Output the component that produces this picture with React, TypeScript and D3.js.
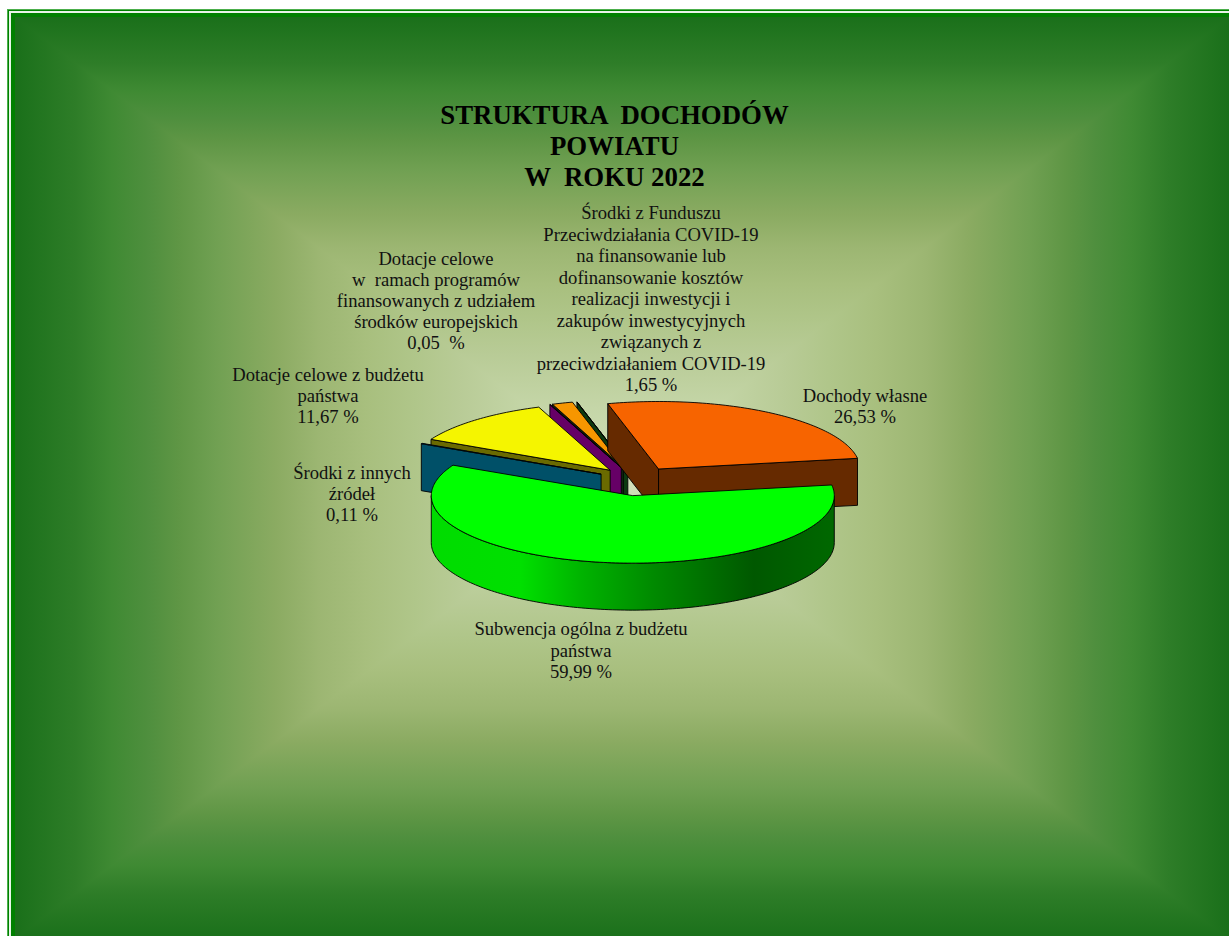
import React from "react";
import * as d3 from "d3";

const W = 1229, H = 936;
const titleLines = ["STRUKTURA  DOCHODÓW", "POWIATU", "W  ROKU 2022"];
const sliceNames = ["Dochody własne", "Subwencja ogólna", "Środki z innych źródeł", "Dotacje celowe z budżetu państwa", "Dotacje celowe UE", "Środki z Funduszu COVID-19", "(bez etykiety)"];
const sliceValues = [26.53, 59.99, 0.11, 11.67, 0.05, 1.65, 0.01];
const topColors = ["#f76400", "#00ff00", "#00b4ff", "#f5f500", "#a000a0", "#f79600", "#0c3a10"];
const wallColors = ["#662a00", "url(#wall)", "#005068", "#6a6a00", "#660066", "#0f2a10", "#0c3a10"];
const paintOrder = [6, 5, 4, 3, 2, 0, 1];
const nudgeX = [-0.5, 2, 0, 0, -1.5, -1.5, 1];
const nudgeY = [0, 2, 0, 0, 0, 0, 0];

const labels = [
  { x: 865, y: 402, pitch: 21, lines: ["Dochody własne", "26,53 %"] },
  { x: 581, y: 635, pitch: 21.5, lines: ["Subwencja ogólna z budżetu", "państwa", "59,99 %"] },
  { x: 352, y: 479, pitch: 21, lines: ["Środki z innych", "źródeł", "0,11 %"] },
  { x: 328, y: 381, pitch: 21, lines: ["Dotacje celowe z budżetu", "państwa", "11,67 %"] },
  { x: 436, y: 265, pitch: 21, lines: ["Dotacje celowe", "w  ramach programów", "finansowanych z udziałem", "środków europejskich", "0,05  %"] },
  { x: 651, y: 219, pitch: 21.5, lines: ["Środki z Funduszu", "Przeciwdziałania COVID-19", "na finansowanie lub", "dofinansowanie kosztów", "realizacji inwestycji i", "zakupów inwestycyjnych", "związanych z", "przeciwdziałaniem COVID-19", "1,65 %"] },
];

const CX = 637, CY = 480.3, RX = 201.5, RY = 67.5, DEPTH = 47, EXPLODE = 0.2;
const BG = { x0: 15, y0: 17, x1: 1229, y1: 939, cx: 622, cy: 478 };
const bgStops: [number, string][] = [[0, "#1a701a"], [0.1, "#2e7d28"], [0.16, "#3f8a33"], [0.22, "#4f8f3e"], [0.27, "#5f9645"], [0.33, "#70a052"], [0.43, "#8bab62"], [0.5, "#9cb672"], [0.58, "#a8bf7e"], [0.66, "#b0c68a"], [0.73, "#b8cb96"], [0.85, "#c5d6a8"], [1, "#d2e0bc"]];
const wallStops: [number, string][] = [[0, "#00dc00"], [0.22, "#00e000"], [0.37, "#00b400"], [0.55, "#008a00"], [0.8, "#005800"], [1, "#006800"]];

const pie = d3.pie<number>().sort(null).startAngle((-14.6 * Math.PI) / 180).endAngle(((360 - 14.6) * Math.PI) / 180);
const arcs = pie(sliceValues);
const line = d3.line<[number, number]>();

function sliceShape(i: number) {
  const a = arcs[i];
  const mid = (a.startAngle + a.endAngle) / 2;
  const ax = CX + EXPLODE * RX * Math.sin(mid) + nudgeX[i];
  const ay = CY - EXPLODE * RY * Math.cos(mid) + nudgeY[i];
  const pt = (t: number, dy = 0): [number, number] => [ax + RX * Math.sin(t), ay - RY * Math.cos(t) + dy];
  const sample = (s: number, e: number) => {
    const n = Math.max(2, Math.ceil(Math.abs(e - s) / 0.02));
    return d3.range(n + 1).map((k) => s + ((e - s) * k) / n);
  };
  const top = line([[ax, ay], ...sample(a.startAngle, a.endAngle).map((t) => pt(t))]) + "Z";
  const walls: { d: string }[] = [];
  const wall = (t: number) => line([[ax, ay], pt(t), pt(t, DEPTH), [ax, ay + DEPTH]]) + "Z";
  if (Math.sin(a.startAngle) < 0) walls.push({ d: wall(a.startAngle) });
  if (Math.sin(a.endAngle) > 0) walls.push({ d: wall(a.endAngle) });
  const s = Math.max(a.startAngle, Math.PI / 2), e = Math.min(a.endAngle, (3 * Math.PI) / 2);
  let outer: string | null = null;
  if (e > s) {
    const ts = sample(s, e);
    outer = line([...ts.map((t) => pt(t)), ...ts.slice().reverse().map((t) => pt(t, DEPTH))]) + "Z";
  }
  return { top, walls, outer };
}

export default function App() {
  const { x0, y0, x1, y1, cx, cy } = BG;
  const tris = [
    { id: "gL", g: [x0, cy, cx, cy], p: [[x0, y0], [x0, y1], [cx + 1, y1], [cx + 1, y0]] },
    { id: "gR", g: [x1, cy, cx, cy], p: [[x1, y0], [x1, y1], [cx, y1], [cx, y0]] },
    { id: "gT", g: [cx, y0, cx, cy], p: [[x0, y0], [x1, y0], [cx, cy]] },
    { id: "gB", g: [cx, y1, cx, cy], p: [[x0, y1], [x1, y1], [cx, cy]] },
  ];
  return (
    <svg width={W} height={H} viewBox={`0 0 ${W} ${H}`} style={{ position: "absolute", left: 0, top: 0, display: "block" }}>
      <defs>
        {tris.map((t) => (
          <linearGradient key={t.id} id={t.id} gradientUnits="userSpaceOnUse" x1={t.g[0]} y1={t.g[1]} x2={t.g[2]} y2={t.g[3]}>
            {bgStops.map(([o, c]) => <stop key={o} offset={o} stopColor={c} />)}
          </linearGradient>
        ))}
        <linearGradient id="wall" gradientUnits="userSpaceOnUse" x1={CX - RX - 4} x2={CX + RX - 4} y1={0} y2={0}>
          {wallStops.map(([o, c]) => <stop key={o} offset={o} stopColor={c} />)}
        </linearGradient>
      </defs>
      <rect width={W} height={H} fill="#ffffff" />
      <rect x={7.5} y={9.5} width={W} height={H} fill="#008000" stroke="#4caf4c" strokeWidth={1} />
      <rect x={10} y={12} width={W} height={H} fill="#008000" stroke="#e8f4e8" strokeWidth={2} />
      {tris.map((t) => (
        <polygon key={t.id} points={t.p.map((q) => q.join(",")).join(" ")} fill={`url(#${t.id})`} />
      ))}
      <g fontFamily="'Liberation Serif', serif" fill="#000">
        <text x={614} y={124} fontSize={26.8} fontWeight="bold" textAnchor="middle" style={{ whiteSpace: "pre" }}>
          {titleLines.map((l, i) => (
            <tspan key={i} x={614.5} dy={i ? 31 : 0} style={{ whiteSpace: "pre" }}>{l}</tspan>
          ))}
        </text>
        {paintOrder.map((i) => {
          const s = sliceShape(i);
          return (
            <g key={sliceNames[i]} stroke="#000" strokeWidth={0.9} strokeLinejoin="round">
              {s.walls.map((w, k) => <path key={k} d={w.d} fill={wallColors[i]} />)}
              {s.outer && <path d={s.outer} fill={wallColors[i]} />}
              <path d={s.top} fill={topColors[i]} />
            </g>
          );
        })}
        {labels.map((l) => (
          <text key={l.lines[0]} x={l.x} y={l.y} fontSize={18.6} textAnchor="middle" fill="#111" style={{ whiteSpace: "pre" }}>
            {l.lines.map((t, i) => (
              <tspan key={i} x={l.x} dy={i ? l.pitch : 0} style={{ whiteSpace: "pre" }}>{t}</tspan>
            ))}
          </text>
        ))}
      </g>
    </svg>
  );
}
